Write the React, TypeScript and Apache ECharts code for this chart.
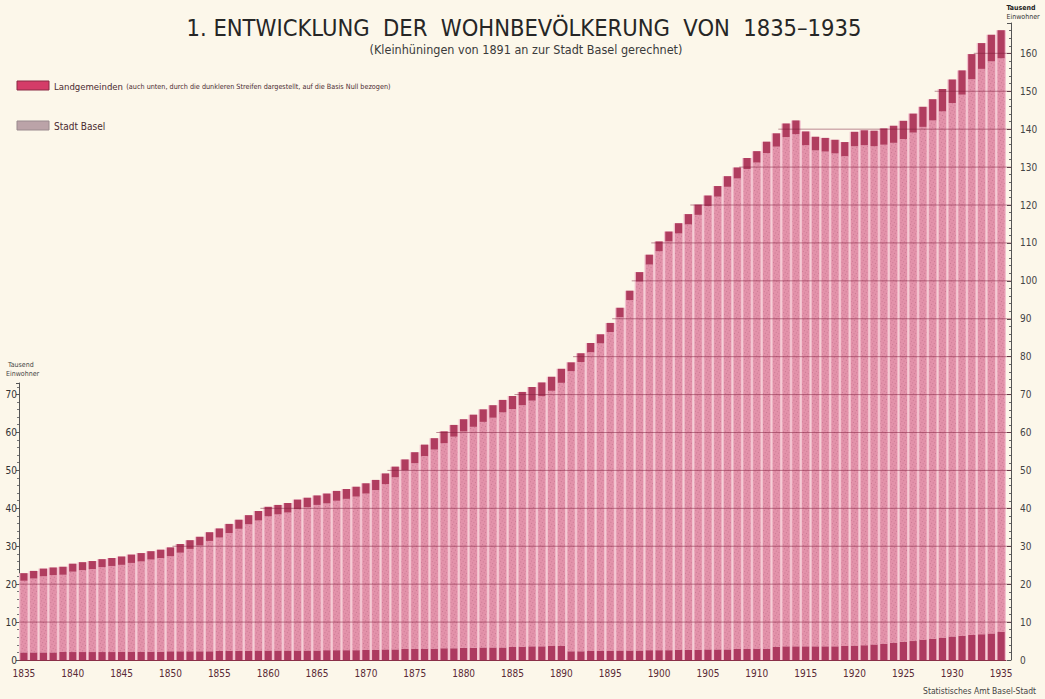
import React, { useEffect, useRef } from "react";
import * as echarts from "echarts";

// Years 1835..1935
const years: string[] = Array.from({ length: 101 }, (_, i) => String(1835 + i));

// Total resident population (Tausend Einwohner) = Stadt Basel + Landgemeinden
const gesamt: number[] = [
  22.9, 23.5, 24.1, 24.4, 24.6, 25.4, 25.8, 26.1, 26.6, 26.9,
  27.3, 27.8, 28.2, 28.7, 29.1, 29.7, 30.6, 31.6, 32.5, 33.7,
  34.7, 35.9, 37.0, 38.2, 39.3, 40.4, 40.9, 41.4, 42.3, 42.8,
  43.4, 43.9, 44.6, 45.1, 45.7, 46.6, 47.5, 49.2, 51.0, 52.9,
  54.8, 56.8, 58.5, 60.3, 62.0, 63.5, 64.7, 66.1, 67.2, 68.6,
  69.6, 70.7, 72.0, 73.2, 74.7, 76.8, 78.5, 80.9, 83.6, 85.9,
  88.9, 92.9, 97.4, 102.3, 106.9, 110.4, 113.0, 115.2, 117.6, 120.1,
  122.5, 125.0, 127.6, 129.9, 132.4, 134.2, 136.7, 138.9, 141.5, 142.3,
  139.4, 138.0, 137.7, 137.2, 136.6, 139.3, 139.7, 139.6, 140.2, 140.9,
  142.2, 144.1, 145.9, 147.9, 150.6, 153.1, 155.5, 159.8, 162.7, 164.9,
  166.1,
];

// Landgemeinden (Riehen, Bettingen, Kleinhüningen bis 1890), Tausend
const landgemeinden: number[] = [
  2.0, 2.0, 2.0, 2.0, 2.1, 2.1, 2.1, 2.1, 2.1, 2.1,
  2.2, 2.2, 2.2, 2.2, 2.2, 2.3, 2.3, 2.3, 2.3, 2.3,
  2.4, 2.4, 2.4, 2.4, 2.5, 2.5, 2.5, 2.5, 2.5, 2.5,
  2.5, 2.6, 2.6, 2.6, 2.6, 2.7, 2.7, 2.8, 2.8, 2.9,
  2.9, 3.0, 3.0, 3.1, 3.1, 3.2, 3.2, 3.3, 3.3, 3.3,
  3.4, 3.5, 3.6, 3.6, 3.7, 3.7, 2.3, 2.3, 2.4, 2.4,
  2.4, 2.5, 2.5, 2.5, 2.6, 2.6, 2.6, 2.7, 2.7, 2.7,
  2.8, 2.8, 2.8, 2.9, 2.9, 3.0, 3.0, 3.5, 3.6, 3.6,
  3.6, 3.6, 3.6, 3.6, 3.7, 3.8, 3.9, 4.1, 4.3, 4.5,
  4.8, 5.0, 5.3, 5.6, 5.9, 6.2, 6.4, 6.6, 6.8, 7.0,
  7.4,
];

// Horizontal reference lines (Tausend)
const gridLevels: number[] = [10, 20, 30, 40, 50, 60, 70, 80, 90, 100, 110, 120, 130, 140, 150, 160];

const TITLE = "1. ENTWICKLUNG  DER  WOHNBEVÖLKERUNG  VON  1835–1935";
const SUBTITLE = "(Kleinhüningen von 1891 an zur Stadt Basel gerechnet)";
const LEGEND_LAND = "Landgemeinden";
const LEGEND_LAND_NOTE = "(auch unten, durch die dunkleren Streifen dargestellt, auf die Basis Null bezogen)";
const LEGEND_BASEL = "Stadt Basel";
const UNIT_1 = "Tausend";
const UNIT_2 = "Einwohner";
const SOURCE = "Statistisches Amt Basel-Stadt";

const FONT = "'DejaVu Sans Condensed', 'Liberation Sans', sans-serif";

export default function App() {
  const ref = useRef<HTMLDivElement>(null);

  useEffect(() => {
    if (!ref.current) return;
    const chart = echarts.init(ref.current, undefined, { renderer: "svg" });

    const baselVisible = gesamt.map((t, i) => +(t - 2 * landgemeinden[i]).toFixed(2));
    const lastIdx = gesamt.length - 1;
    const gridData = gridLevels.map((lvl) => {
      let idx = gesamt.findIndex((t) => t >= lvl);
      if (idx < 0) idx = lastIdx;
      return [idx, lvl];
    });

    const GRID_LEFT = 19;

    const option: any = {
      animation: false,
      backgroundColor: "#fcf7ea",
      grid: [
        { left: GRID_LEFT, right: 39, top: 23, bottom: 39 },
        { left: GRID_LEFT, width: 1, top: 383, bottom: 39 },
      ],
      xAxis: [
        {
          type: "category",
          gridIndex: 0,
          data: years,
          axisLine: { lineStyle: { color: "#8a3048", width: 1 } },
          axisTick: { show: false },
          axisLabel: {
            interval: 4,
            fontSize: 10,
            color: "#5a2a35",
            margin: 8,
            fontFamily: FONT,
          },
        },
        {
          type: "category",
          gridIndex: 0,
          data: years,
          show: false,
        },
        { type: "value", gridIndex: 1, show: false, min: 0, max: 1 },
      ],
      yAxis: [
        {
          type: "value",
          gridIndex: 0,
          position: "right",
          offset: 5,
          min: 0,
          max: 168,
          interval: 10,
          axisLine: { show: true, lineStyle: { color: "#555", width: 1 } },
          axisTick: { show: true, inside: true, length: 4, lineStyle: { color: "#555" } },
          minorTick: { show: true, splitNumber: 5, length: 2, lineStyle: { color: "#666" } },
          splitLine: { show: false },
          axisLabel: {
            fontSize: 10,
            color: "#444",
            margin: 9,
            fontFamily: FONT,
            formatter: (v: number) => (v % 10 === 0 && v <= 160 ? String(v) : ""),
          },
        },
        {
          type: "value",
          gridIndex: 1,
          position: "left",
          min: 0,
          max: 73,
          interval: 10,
          axisLine: { show: true, lineStyle: { color: "#555", width: 1 } },
          axisTick: { show: true, length: 3, lineStyle: { color: "#555" } },
          minorTick: { show: true, splitNumber: 5, length: 2, lineStyle: { color: "#777" } },
          splitLine: { show: false },
          axisLabel: {
            fontSize: 10,
            color: "#333",
            margin: 2,
            fontFamily: FONT,
            formatter: (v: number) => (v % 10 === 0 && v <= 70 ? String(v) : ""),
          },
        },
      ],
      series: [
        {
          name: "bg",
          type: "bar",
          xAxisIndex: 1,
          yAxisIndex: 0,
          data: gesamt,
          barCategoryGap: "0%",
          itemStyle: { color: "#f3c2cf" },
          z: 1,
          silent: true,
        },
        {
          name: "Landgemeinden (Basis Null)",
          type: "bar",
          stack: "pop",
          xAxisIndex: 0,
          yAxisIndex: 0,
          data: landgemeinden,
          barCategoryGap: "26%",
          itemStyle: { color: "#ad3a60" },
          z: 2,
        },
        {
          name: "Stadt Basel",
          type: "bar",
          stack: "pop",
          xAxisIndex: 0,
          yAxisIndex: 0,
          data: baselVisible,
          barCategoryGap: "26%",
          itemStyle: {
            color: "#e392aa",
            decal: {
              symbol: "rect",
              symbolSize: 0.8,
              color: "rgba(130,50,80,0.35)",
              dashArrayX: [1, 1.5],
              dashArrayY: [1, 2],
              rotation: 0.5,
            },
          },
          z: 2,
        },
        {
          name: "Landgemeinden",
          type: "bar",
          stack: "pop",
          xAxisIndex: 0,
          yAxisIndex: 0,
          data: landgemeinden,
          barCategoryGap: "26%",
          itemStyle: { color: "#b03d5f" },
          z: 2,
        },
        {
          name: "grid",
          type: "custom",
          xAxisIndex: 0,
          yAxisIndex: 0,
          data: gridData,
          encode: { x: 0, y: 1 },
          z: 5,
          silent: true,
          renderItem: (params: any, api: any) => {
            const idx = api.value(0);
            const lvl = api.value(1);
            const p0 = api.coord([idx, lvl]);
            const p1 = api.coord([lastIdx, lvl]);
            const bw = api.size([1, 0])[0];
            const x1 = Math.max(p0[0] - bw * 0.8, GRID_LEFT);
            return {
              type: "line",
              shape: { x1, y1: p0[1], x2: p1[0] + bw, y2: p1[1] },
              style: { stroke: "rgba(125,30,60,0.5)", lineWidth: 1 },
            };
          },
        },
      ],
      graphic: [
        {
          type: "text",
          x: 524,
          y: 28,
          style: {
            text: TITLE,
            align: "center",
            verticalAlign: "middle",
            fontSize: 23.5,
            fontFamily: FONT,
            fill: "#262626",
          },
        },
        {
          type: "text",
          x: 526,
          y: 49,
          style: {
            text: SUBTITLE,
            align: "center",
            verticalAlign: "middle",
            fontSize: 12.5,
            fontFamily: FONT,
            fill: "#3a3a3a",
          },
        },
        {
          type: "rect",
          shape: { x: 17, y: 81, width: 32, height: 9 },
          style: { fill: "#d43c68", stroke: "#8a2a45", lineWidth: 1 },
        },
        {
          type: "text",
          x: 54,
          y: 86,
          style: {
            text: "{a|" + LEGEND_LAND + "} {b|" + LEGEND_LAND_NOTE + "}",
            verticalAlign: "middle",
            rich: {
              a: { fontSize: 9.5, fontFamily: FONT, fill: "#4a2a30", verticalAlign: "middle" },
              b: { fontSize: 7.2, fontFamily: FONT, fill: "#4a2a30", verticalAlign: "middle" },
            },
          },
        },
        {
          type: "rect",
          shape: { x: 17, y: 121, width: 32, height: 9 },
          style: { fill: "#bba3a8", stroke: "#9a8a8e", lineWidth: 1 },
        },
        {
          type: "text",
          x: 54,
          y: 126,
          style: {
            text: LEGEND_BASEL,
            verticalAlign: "middle",
            fontSize: 10,
            fontFamily: FONT,
            fill: "#4a2a30",
          },
        },
        {
          type: "text",
          x: 8,
          y: 365,
          style: { text: UNIT_1, fontSize: 7, fontFamily: FONT, fill: "#444", verticalAlign: "middle" },
        },
        {
          type: "text",
          x: 6,
          y: 374,
          style: { text: UNIT_2, fontSize: 7, fontFamily: FONT, fill: "#444", verticalAlign: "middle" },
        },
        {
          type: "text",
          x: 1021,
          y: 8,
          style: { text: UNIT_1, fontSize: 7, fontFamily: FONT, fill: "#222", align: "center", verticalAlign: "middle", fontWeight: "bold" },
        },
        {
          type: "text",
          x: 1023,
          y: 17,
          style: { text: UNIT_2, fontSize: 7, fontFamily: FONT, fill: "#333", align: "center", verticalAlign: "middle" },
        },
        {
          type: "text",
          x: 1036,
          y: 691,
          style: { text: SOURCE, fontSize: 8.5, fontFamily: FONT, fill: "#444", align: "right", verticalAlign: "middle" },
        },
      ],
    };

    chart.setOption(option);
    return () => chart.dispose();
  }, []);

  return <div ref={ref} style={{ width: 1045, height: 699, position: "fixed", left: 0, top: 0 }} />;
}
